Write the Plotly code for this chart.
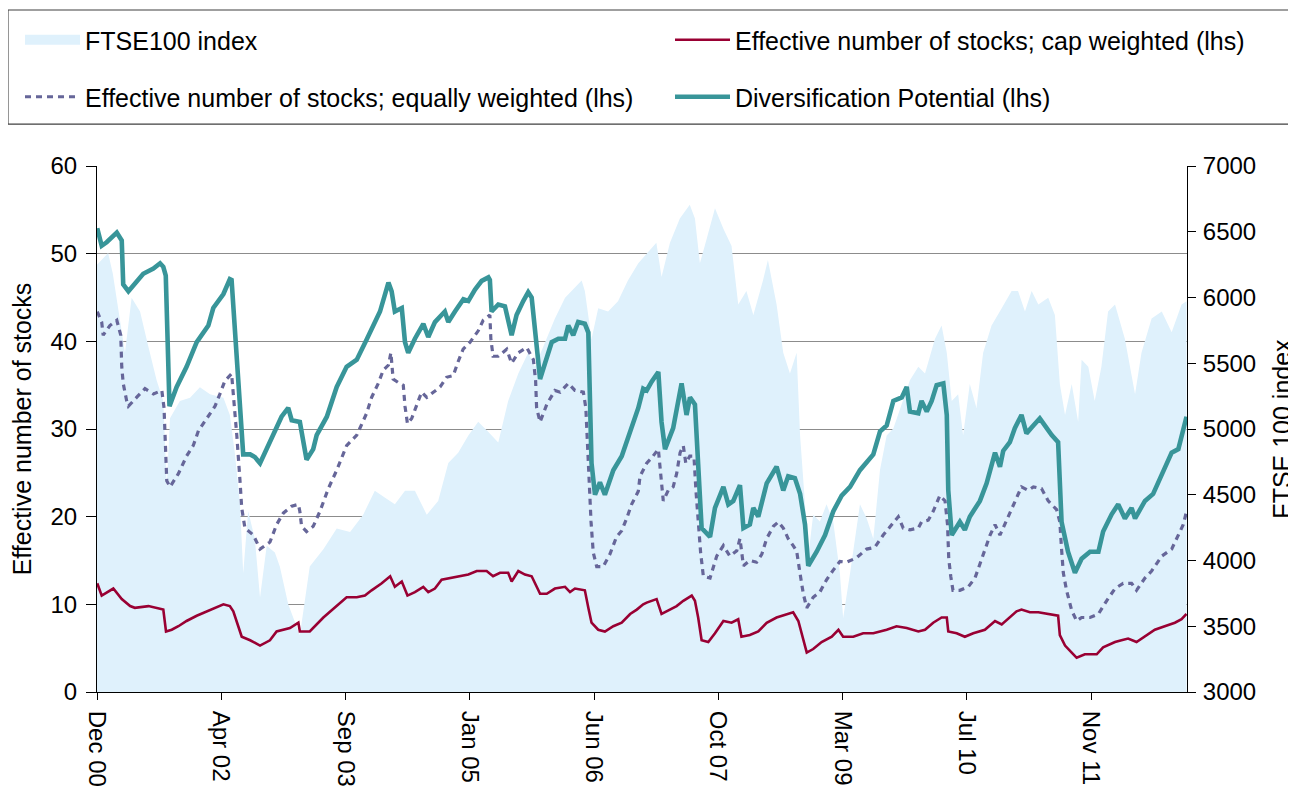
import plotly.graph_objects as go

# ---------------- data ----------------
ftse_dates = ["2000-12-01","2001-01-15","2001-02-03","2001-03-11","2001-03-24","2001-04-20","2001-05-24","2001-06-26",
              "2001-07-30","2001-08-26","2001-09-09","2001-09-22","2001-11-01","2001-12-12","2002-01-21","2002-03-03",
              "2002-04-26","2002-05-22","2002-06-11","2002-07-02","2002-07-15","2002-08-04","2002-08-31","2002-09-21",
              "2002-10-18","2002-11-20","2002-12-10","2003-01-13","2003-03-01","2003-04-10","2003-06-04","2003-07-28",
              "2003-09-20","2003-11-12","2003-12-29","2004-02-07","2004-03-19","2004-04-29","2004-06-08","2004-07-26",
              "2004-09-10","2004-10-21","2004-11-30","2005-01-10","2005-02-19","2005-04-01","2005-05-11","2005-06-20",
              "2005-07-31","2005-09-09","2005-10-06","2005-11-16","2005-12-26","2006-02-05","2006-03-17","2006-04-13",
              "2006-04-26","2006-05-23","2006-06-19","2006-07-29","2006-09-07","2006-10-17","2006-11-28","2007-01-14",
              "2007-02-09","2007-03-02","2007-04-05","2007-05-15","2007-06-24","2007-07-15","2007-08-04","2007-08-31",
              "2007-10-04","2007-11-07","2007-12-10","2008-01-06","2008-02-08","2008-03-07","2008-04-15","2008-05-05",
              "2008-06-09","2008-07-06","2008-08-02","2008-08-29","2008-09-12","2008-10-02","2008-10-15","2008-11-04",
              "2008-12-01","2008-12-28","2009-01-24","2009-02-20","2009-03-05","2009-04-02","2009-05-12","2009-06-08",
              "2009-07-05","2009-08-01","2009-08-28","2009-09-24","2009-11-03","2009-11-30","2010-01-03","2010-01-30",
              "2010-03-11","2010-04-07","2010-04-28","2010-05-18","2010-06-13","2010-07-03","2010-07-30","2010-08-26",
              "2010-09-22","2010-10-26","2010-12-06","2011-01-15","2011-02-10","2011-03-10","2011-04-06","2011-05-03",
              "2011-06-12","2011-07-09","2011-07-29","2011-08-19","2011-09-15","2011-10-11","2011-10-25","2011-11-21",
              "2011-12-17","2012-01-13","2012-02-09","2012-03-08","2012-04-17","2012-05-28","2012-06-23","2012-08-03",
              "2012-09-13","2012-10-23","2012-12-02","2012-12-22"]
ftse_values = [6250,6338,6181,5736,5579,5998,5893,5631,
               5370,5212,4558,5081,5212,5238,5317,5265,
               5238,5107,4819,4427,3903,4374,4165,3719,
               4112,4060,3955,3667,3431,3955,4086,4243,
               4217,4348,4531,4479,4427,4531,4531,4348,
               4453,4741,4819,4950,5055,4977,4898,5212,
               5422,5579,5474,5657,5841,5998,6077,6129,
               6050,5684,5919,5893,5972,6129,6260,6365,
               6417,6155,6417,6600,6705,6600,6260,6443,
               6679,6522,6391,5946,6050,5867,6129,6286,
               5946,5579,5422,5579,4950,4427,4034,4348,
               4296,4427,4296,3903,3562,3903,4427,4322,
               4165,4688,4950,5003,5212,5370,5474,5422,
               5684,5788,5579,5212,5265,4950,5343,5160,
               5579,5788,5919,6050,6050,5893,6050,5946,
               5998,5867,5343,5107,5343,5055,5527,5474,
               5212,5474,5893,5946,5684,5265,5579,5841,
               5893,5736,5946,5972]

cap_dates = ["2000-12-02","2000-12-20","2001-02-05","2001-03-11","2001-04-14","2001-05-03","2001-06-27","2001-07-31",
             "2001-08-26","2001-09-06","2001-09-29","2001-10-26","2001-11-28","2002-01-08","2002-02-11","2002-03-23",
             "2002-04-26","2002-05-22","2002-06-05","2002-06-25","2002-07-09","2002-08-12","2002-09-21","2002-10-31",
             "2002-11-27","2003-01-20","2003-02-23","2003-03-01","2003-04-10","2003-06-04","2003-07-28","2003-09-06",
             "2003-10-17","2003-11-19","2003-12-16","2004-01-26","2004-02-29","2004-03-19","2004-04-16","2004-05-09",
             "2004-06-08","2004-07-12","2004-08-01","2004-08-28","2004-09-24","2004-11-04","2004-12-07","2005-01-10",
             "2005-02-13","2005-03-25","2005-04-20","2005-05-18","2005-06-20","2005-07-04","2005-07-31","2005-08-27",
             "2005-09-23","2005-10-13","2005-10-27","2005-11-23","2005-12-26","2006-02-05","2006-02-25","2006-03-17",
             "2006-04-26","2006-05-10","2006-05-23","2006-06-19","2006-07-16","2006-08-19","2006-09-22","2006-10-26",
             "2006-11-22","2006-12-18","2007-01-01","2007-02-10","2007-03-02","2007-03-22","2007-05-02","2007-05-29",
             "2007-07-02","2007-07-15","2007-07-28","2007-08-11","2007-09-07","2007-10-04","2007-11-07","2007-12-10",
             "2008-01-06","2008-01-19","2008-02-22","2008-03-27","2008-04-30","2008-06-09","2008-07-20","2008-08-15",
             "2008-09-05","2008-09-18","2008-10-09","2008-11-04","2008-12-08","2009-01-18","2009-02-14","2009-03-05",
             "2009-04-15","2009-05-25","2009-07-05","2009-08-28","2009-10-07","2009-11-17","2010-01-03","2010-01-30",
             "2010-03-04","2010-04-07","2010-04-28","2010-05-04","2010-06-07","2010-07-10","2010-08-13","2010-09-29",
             "2010-11-09","2010-12-06","2011-01-08","2011-02-04","2011-02-24","2011-03-30","2011-05-03","2011-06-12",
             "2011-07-22","2011-07-29","2011-08-19","2011-09-15","2011-10-05","2011-11-07","2011-12-25","2012-01-20",
             "2012-03-08","2012-04-03","2012-04-30","2012-06-03","2012-07-07","2012-08-16","2012-09-25","2012-11-05",
             "2012-12-02","2012-12-22"]
cap_values = [12.4,11.0,11.8,10.6,9.8,9.6,9.8,9.6,
              9.4,6.9,7.1,7.5,8.1,8.7,9.1,9.6,
              10.0,9.8,9.2,7.5,6.3,5.9,5.3,5.9,
              6.9,7.3,7.9,6.9,6.9,8.5,9.8,10.8,
              10.8,11.0,11.6,12.4,13.2,12.0,12.6,11.0,
              11.4,12.0,11.4,11.8,12.8,13.0,13.2,13.4,
              13.8,13.8,13.2,13.6,13.6,12.6,13.8,13.4,
              13.2,12.0,11.2,11.2,11.8,12.0,11.4,11.8,
              11.6,9.6,7.9,7.1,6.9,7.5,7.9,8.9,
              9.4,10.0,10.2,10.6,8.9,9.2,9.8,10.4,
              11.0,10.4,8.5,5.9,5.7,6.7,8.1,7.9,
              8.3,6.3,6.5,6.9,7.9,8.5,8.9,9.1,
              8.1,6.7,4.5,4.9,5.7,6.3,7.1,6.3,
              6.3,6.7,6.7,7.1,7.5,7.3,6.9,7.1,
              7.9,8.5,8.5,6.9,6.7,6.3,6.7,7.1,
              8.1,7.7,8.5,9.2,9.4,9.1,9.1,8.9,
              8.7,6.5,5.3,4.5,3.9,4.3,4.3,5.1,
              5.7,5.9,6.1,5.7,6.3,7.1,7.5,7.9,
              8.3,8.9]

eq_dates = ["2000-12-02","2000-12-20","2000-12-26","2001-01-22","2001-02-19","2001-03-07","2001-03-11","2001-03-17",
            "2001-03-31","2001-04-07","2001-05-10","2001-06-13","2001-07-17","2001-08-20","2001-08-29","2001-09-02",
            "2001-09-09","2001-09-22","2001-10-26","2001-11-28","2001-12-25","2002-01-15","2002-02-18","2002-03-23",
            "2002-04-12","2002-05-02","2002-05-29","2002-06-08","2002-06-19","2002-07-02","2002-07-09","2002-07-22",
            "2002-08-25","2002-09-21","2002-10-31","2002-11-27","2002-12-24","2003-01-27","2003-02-23","2003-03-01",
            "2003-03-08","2003-03-28","2003-04-24","2003-05-21","2003-06-24","2003-07-28","2003-09-06","2003-10-17",
            "2003-11-26","2003-12-16","2004-01-12","2004-02-01","2004-02-22","2004-03-03","2004-03-12","2004-04-02",
            "2004-04-22","2004-04-29","2004-05-09","2004-05-26","2004-06-15","2004-07-05","2004-07-26","2004-08-22",
            "2004-09-18","2004-10-14","2004-11-10","2004-11-30","2004-12-20","2005-01-17","2005-02-19","2005-03-11",
            "2005-04-07","2005-04-11","2005-04-20","2005-05-11","2005-06-14","2005-07-04","2005-07-31","2005-09-03",
            "2005-09-30","2005-10-09","2005-10-13","2005-10-27","2005-11-23","2005-12-26","2006-01-16","2006-02-18",
            "2006-03-17","2006-04-20","2006-04-30","2006-05-07","2006-05-13","2006-05-21","2006-05-30","2006-06-13",
            "2006-07-09","2006-08-05","2006-09-01","2006-09-22","2006-10-12","2006-11-01","2006-11-28","2006-12-05",
            "2007-01-01","2007-01-21","2007-02-17","2007-02-24","2007-03-09","2007-03-29","2007-04-18","2007-05-02",
            "2007-05-16","2007-05-29","2007-06-08","2007-06-24","2007-07-11","2007-07-19","2007-07-28","2007-08-07",
            "2007-08-18","2007-09-14","2007-10-11","2007-11-07","2007-12-03","2007-12-31","2008-01-13","2008-01-27",
            "2008-02-22","2008-03-20","2008-04-10","2008-04-30","2008-05-27","2008-06-16","2008-07-06","2008-07-26",
            "2008-08-15","2008-08-29","2008-09-12","2008-09-25","2008-10-09","2008-11-04","2008-12-01","2008-12-28",
            "2009-01-24","2009-02-20","2009-03-19","2009-04-28","2009-06-08","2009-07-11","2009-08-14","2009-09-24",
            "2009-10-14","2009-11-03","2009-11-30","2010-01-03","2010-01-16","2010-02-12","2010-03-04","2010-03-31",
            "2010-04-21","2010-05-01","2010-05-06","2010-05-14","2010-05-23","2010-06-20","2010-07-24","2010-08-20",
            "2010-09-16","2010-10-20","2010-11-09","2010-11-29","2010-12-26","2011-01-22","2011-02-24","2011-03-23",
            "2011-04-13","2011-05-16","2011-06-12","2011-07-16","2011-07-29","2011-08-05","2011-08-12","2011-08-25",
            "2011-09-15","2011-10-05","2011-10-25","2011-11-28","2012-01-01","2012-02-03","2012-03-08","2012-04-10",
            "2012-05-14","2012-06-03","2012-07-07","2012-08-03","2012-09-13","2012-10-23","2012-11-19","2012-12-09",
            "2012-12-22"]
eq_values = [43.4,42.2,40.7,41.8,42.4,40.7,37.1,35.2,
             33.2,32.6,33.6,34.6,34.0,34.4,32.4,28.5,
             24.1,23.4,24.9,26.9,28.1,29.8,31.2,32.6,
             34.0,35.5,36.3,33.2,29.3,24.1,21.0,18.7,
             17.9,16.3,17.1,19.1,20.4,21.2,21.4,20.6,
             18.9,18.3,18.9,20.6,23.2,25.3,28.1,29.3,
             31.8,33.6,35.2,36.7,37.3,38.7,35.7,35.3,
             35.0,32.6,30.6,31.2,32.6,34.2,33.6,34.2,
             34.8,35.9,36.1,37.7,39.1,39.9,41.2,42.4,
             43.0,40.3,38.3,38.3,39.1,37.5,38.7,39.3,
             37.9,35.5,32.4,30.8,32.8,34.4,34.2,35.2,
             34.4,34.2,32.4,28.1,23.8,19.4,15.9,14.3,
             14.3,15.7,17.7,18.4,19.8,21.4,22.9,24.6,
             26.1,26.7,27.7,25.3,21.8,23.0,23.4,24.9,
             27.3,28.1,26.1,26.9,26.9,23.0,19.1,15.9,
             13.2,13.0,15.5,16.7,15.5,16.1,17.5,14.4,
             15.0,14.8,15.7,17.5,18.9,19.4,18.7,17.5,
             16.7,16.1,13.5,11.2,9.6,10.8,11.4,12.8,
             13.9,14.9,14.8,15.3,16.3,16.5,17.9,19.4,
             20.0,18.7,18.5,18.7,19.4,19.6,20.6,22.4,
             21.8,19.1,15.2,13.2,11.6,11.6,12.0,13.0,
             15.1,17.9,19.1,17.9,19.6,21.4,23.4,23.0,
             23.4,23.2,21.8,20.8,19.4,16.3,13.6,11.6,
             9.3,8.1,8.5,8.5,8.9,10.4,11.8,12.4,
             12.4,11.6,13.0,13.8,15.5,16.3,17.9,19.1,
             20.6]

div_dates = ["2000-12-02","2000-12-20","2001-01-09","2001-02-19","2001-03-11","2001-03-17","2001-04-07","2001-05-03",
             "2001-06-06","2001-07-17","2001-08-13","2001-08-26","2001-09-05","2001-09-20","2001-10-19","2001-11-28",
             "2002-01-08","2002-02-24","2002-03-16","2002-04-26","2002-05-22","2002-05-29","2002-06-19","2002-07-02",
             "2002-07-15","2002-08-12","2002-08-31","2002-09-21","2002-10-18","2002-11-13","2002-12-17","2003-01-13",
             "2003-01-27","2003-03-01","2003-03-28","2003-04-24","2003-05-08","2003-06-18","2003-07-28","2003-09-06",
             "2003-10-17","2003-11-26","2003-12-16","2004-01-19","2004-02-22","2004-03-06","2004-03-19","2004-04-16",
             "2004-04-29","2004-05-12","2004-06-08","2004-07-12","2004-08-01","2004-08-28","2004-10-07","2004-10-21",
             "2004-11-17","2004-12-21","2005-01-10","2005-02-06","2005-03-05","2005-04-01","2005-04-07","2005-04-14",
             "2005-05-11","2005-06-07","2005-07-04","2005-07-24","2005-08-20","2005-09-09","2005-09-23","2005-10-06",
             "2005-10-27","2005-11-16","2005-12-13","2006-01-09","2006-02-05","2006-02-18","2006-03-10","2006-03-30",
             "2006-04-26","2006-05-10","2006-05-23","2006-06-06","2006-06-26","2006-07-16","2006-08-19","2006-09-22",
             "2006-11-01","2006-11-28","2006-12-18","2007-01-01","2007-01-21","2007-02-17","2007-03-02","2007-03-16",
             "2007-04-18","2007-05-22","2007-06-11","2007-06-25","2007-07-15","2007-07-28","2007-08-11","2007-09-14",
             "2007-10-04","2007-11-07","2007-11-27","2007-12-17","2008-01-13","2008-01-27","2008-02-22","2008-03-07",
             "2008-03-27","2008-04-30","2008-06-09","2008-07-06","2008-07-26","2008-08-22","2008-09-12","2008-10-02",
             "2008-10-15","2008-11-18","2008-12-22","2009-01-24","2009-02-27","2009-04-02","2009-05-12","2009-07-05",
             "2009-08-01","2009-08-28","2009-09-24","2009-10-28","2009-11-17","2009-11-30","2010-01-03","2010-01-16",
             "2010-02-06","2010-02-26","2010-03-18","2010-04-14","2010-04-28","2010-05-04","2010-05-18","2010-06-20",
             "2010-07-10","2010-07-30","2010-09-09","2010-10-06","2010-11-09","2010-11-29","2010-12-12","2011-01-08",
             "2011-01-28","2011-02-24","2011-03-16","2011-04-13","2011-05-09","2011-06-06","2011-06-26","2011-07-22",
             "2011-08-05","2011-08-31","2011-09-28","2011-10-25","2011-11-28","2012-01-01","2012-01-20","2012-02-24",
             "2012-03-21","2012-04-17","2012-05-14","2012-05-28","2012-07-07","2012-08-09","2012-09-13","2012-10-23",
             "2012-11-19","2012-12-22"]
div_values = [52.9,50.9,51.3,52.4,51.5,46.5,45.7,46.5,
              47.7,48.3,48.9,48.5,47.5,32.6,34.8,37.1,
              39.9,41.8,43.8,45.4,47.1,47.0,38.7,33.2,
              27.1,27.1,26.8,26.1,27.7,29.3,31.4,32.4,
              31.0,30.8,26.5,27.7,29.3,31.4,34.8,37.1,
              37.9,40.2,41.4,43.4,46.7,45.7,43.4,43.8,
              39.9,38.7,40.3,42.0,40.5,42.2,43.4,42.2,
              43.4,44.8,44.6,45.9,46.9,47.3,47.0,43.4,
              44.2,44.0,40.7,43.0,44.6,45.6,45.0,41.8,
              35.7,37.5,39.9,40.3,40.3,41.8,40.7,42.2,
              42.0,41.0,26.1,22.5,23.9,22.5,25.3,26.9,
              30.4,32.4,34.6,34.4,35.4,36.5,30.8,27.7,
              30.1,35.2,31.6,33.6,32.8,25.3,18.7,17.7,
              21.0,23.4,21.4,21.8,23.6,18.7,19.1,21.0,
              20.0,23.8,25.7,23.0,24.6,24.4,22.6,19.1,
              14.4,16.0,17.9,20.6,22.4,23.4,25.3,27.1,
              29.7,30.4,33.2,33.6,34.8,32.0,31.8,33.2,
              32.0,33.2,35.0,35.2,31.6,23.0,17.9,19.4,
              18.5,20.0,21.8,23.8,27.3,25.7,27.5,28.5,
              30.1,31.6,29.5,30.4,31.2,30.1,29.3,28.5,
              19.4,16.0,13.6,15.2,16.0,16.0,18.3,20.3,
              21.4,19.8,21.0,19.8,21.8,22.6,24.9,27.3,
              27.7,31.4]

tick_dates = ["2000-12-01", "2002-04-17", "2003-09-02", "2005-01-16", "2006-06-02",
              "2007-10-17", "2009-03-03", "2010-07-18", "2011-12-02"]
tick_labels = ["Dec 00", "Apr 02", "Sep 03", "Jan 05", "Jun 06", "Oct 07", "Mar 09", "Jul 10", "Nov 11"]

left_ticks = [0, 10, 20, 30, 40, 50, 60]
left_grid = [10, 20, 30, 40, 50]
right_ticks = [3000, 3500, 4000, 4500, 5000, 5500, 6000, 6500, 7000]

# ---------------- styles ----------------
FONT = "Liberation Sans, Arial, sans-serif"
FILL = "rgb(223,241,252)"
CAP = "#990033"
EQ = "#666699"
DIV = "#389599"

# the page body adds an 8px offset; the figure is sized so the plot lands where the reference has it
W, H = 1288, 783

fig = go.Figure()

fig.add_trace(go.Scatter(x=ftse_dates, y=ftse_values, mode="lines", line=dict(width=0, color=FILL),
                         fill="tozeroy", fillcolor=FILL, yaxis="y", showlegend=False, hoverinfo="skip"))
fig.add_trace(go.Scatter(x=[None], y=[None], mode="lines", line=dict(width=18, color=FILL),
                         name="FTSE100 index", yaxis="y", legend="legend"))
fig.add_trace(go.Scatter(x=cap_dates, y=cap_values, mode="lines", line=dict(width=2.6, color=CAP),
                         name="Effective number of stocks; cap weighted (lhs)", yaxis="y2", legend="legend2"))
fig.add_trace(go.Scatter(x=eq_dates, y=eq_values, mode="lines", line=dict(width=3.2, color=EQ, dash="6px,5px"),
                         name="Effective number of stocks; equally weighted (lhs)", yaxis="y2", legend="legend3"))
fig.add_trace(go.Scatter(x=div_dates, y=div_values, mode="lines", line=dict(width=4.6, color=DIV),
                         name="Diversification Potential (lhs)", yaxis="y2", legend="legend4"))

axis_font = dict(family=FONT, size=24, color="black")
legend_common = dict(orientation="h", xref="container", yref="container", xanchor="left", yanchor="middle",
                     itemwidth=55, font=dict(family=FONT, size=25, color="black"), bgcolor="rgba(0,0,0,0)",
                     borderwidth=0, itemclick=False, itemdoubleclick=False)
COL1, COL2 = 12 / W, 662 / W
ROW1, ROW2 = 1 - 32 / H, 1 - 89 / H

fig.update_layout(
    width=W, height=H,
    margin=dict(l=89, r=109, t=158, b=99, autoexpand=False),
    paper_bgcolor="white", plot_bgcolor="white",
    font=dict(family=FONT, size=24, color="black"),
    showlegend=True,
    legend=dict(legend_common, x=COL1, y=ROW1),
    legend2=dict(legend_common, x=COL2, y=ROW1),
    legend3=dict(legend_common, x=COL1, y=ROW2),
    legend4=dict(legend_common, x=COL2, y=ROW2),
    xaxis=dict(type="date", range=["2000-12-01", "2012-12-24"], tickmode="array", tickvals=tick_dates,
               ticktext=tick_labels, tickangle=90, ticks="outside", ticklen=7, tickcolor="black",
               showline=True, linecolor="black", linewidth=1, showgrid=False, zeroline=False,
               tickfont=axis_font, automargin=False, ticklabelstandoff=6),
    yaxis=dict(side="right", range=[3000, 7000], tickmode="array", tickvals=right_ticks,
               ticks="outside", ticklen=8, tickcolor="black", showline=True, linecolor="black", linewidth=1,
               showgrid=False, zeroline=False, tickfont=axis_font, automargin=False, ticklabelstandoff=2,
               title=dict(text="FTSE 100 index", font=dict(family=FONT, size=25), standoff=20)),
    yaxis2=dict(side="left", overlaying="y", range=[0, 60], tickmode="array", tickvals=left_ticks,
                ticks="outside", ticklen=10, tickcolor="black", showline=True, linecolor="black", linewidth=1,
                showgrid=False, zeroline=False, tickfont=axis_font, automargin=False, ticklabelstandoff=4,
                minor=dict(tickmode="array", tickvals=left_grid, showgrid=True, gridcolor="#8c8c8c",
                           gridwidth=1, ticks=""),
                title=dict(text="Effective number of stocks", font=dict(family=FONT, size=25), standoff=12)),
    shapes=[dict(type="rect", xref="paper", yref="paper", x0=-0.0817, x1=1.125, y0=1.0798, y1=1.2966,
                 line=dict(color="#404040", width=1.2), fillcolor="rgba(0,0,0,0)", layer="above")],
)

fig.write_html("out.html")
